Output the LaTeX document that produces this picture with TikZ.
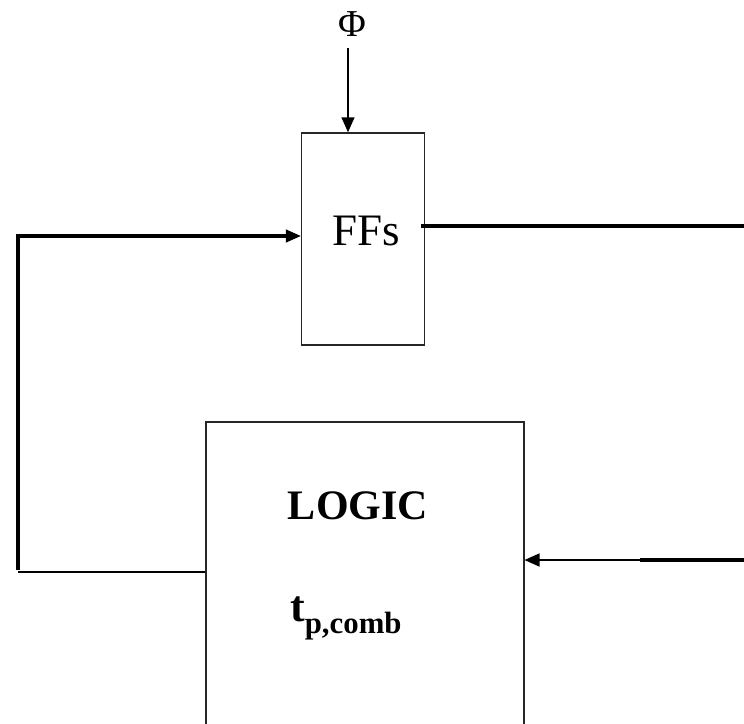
\documentclass[tikz,border=0pt]{standalone}
\usepackage{fontspec}
\setmainfont{Liberation Serif}
\usetikzlibrary{arrows.meta}
\begin{document}
\begin{tikzpicture}[x=1pt,y=-1pt,
  blk/.style={draw=black!85,line width=1.5pt,inner sep=0pt},
  thickline/.style={line width=3.6pt},
  thinline/.style={line width=1.5pt},
  tip/.style={-{Triangle[length=15pt,width=13pt]}}]
\useasboundingbox (0,0) rectangle (744,723);
\node[blk,minimum width=123pt,minimum height=212pt] (ffs) at (363,239) {};
\node[font=\fontsize{45}{54}\selectfont] (fftext) at (366,231) {FFs};
\node[blk,minimum width=318pt,minimum height=360pt,anchor=north west] (logic) at (205,421) {};
\node[font=\fontsize{42}{50}\selectfont\bfseries] (logictext) at (358,506) {LOGIC};
\node[font=\fontsize{44}{52}\selectfont\bfseries,anchor=base west,inner sep=0pt] (tp) at (290,621) {t\textsubscript{p,comb}};
\node[font=\fontsize{38}{46}\selectfont,inner sep=0pt] (phi) at (352,24) {Φ};
\coordinate (phiA) at (348,48);
\draw[thinline,tip] (phiA) -- (phiA |- ffs.north);
\coordinate (lL) at (18,572);
\coordinate (lT) at (18,236);
\draw[thinline] (logic.west |- lL) -- (lL);
\draw[thickline] ([yshift=1.8pt]lL) -- (lT) -- ([xshift=-12pt]ffs.west |- lT);
\draw[thinline,tip] ([xshift=-16pt]ffs.west |- lT) -- (ffs.west |- lT);
\coordinate (outR) at (744,226);
\draw[thickline] ([xshift=-4pt]ffs.east |- outR) -- (outR);
\coordinate (inR) at (744,560);
\coordinate (inM) at (640,560);
\draw[thickline] (inR) -- (inM);
\draw[thinline,tip] (inM) -- (logic.east |- inR);
\end{tikzpicture}
\end{document}
